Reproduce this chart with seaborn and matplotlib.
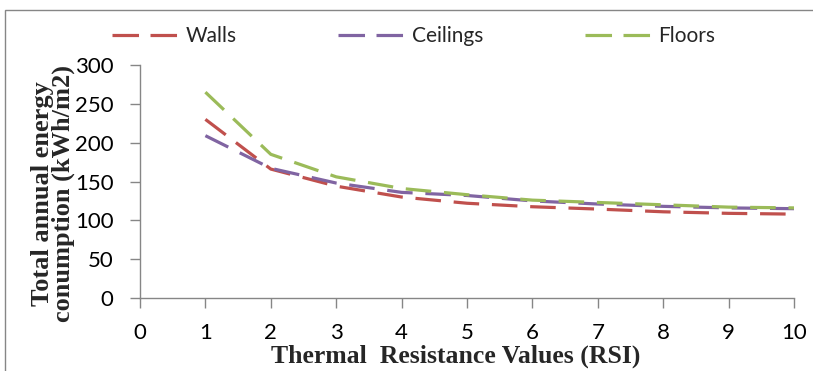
import matplotlib
matplotlib.use("Agg")
import matplotlib.pyplot as plt
import seaborn as sns
import pandas as pd
from matplotlib.patches import Rectangle
from matplotlib.lines import Line2D

rsi = [1, 2, 3, 4, 5, 6, 7, 8, 9, 10]
walls = [230, 166, 144, 130, 122, 117.5, 114.5, 111, 109, 108]
ceilings = [209, 167, 148, 136, 132, 125, 121, 118, 116, 115]
floors = [265, 185, 156, 141, 133, 126, 123, 120, 117, 116]
series_names = ["Walls", "Ceilings", "Floors"]
colors = ["#C0504D", "#8064A2", "#9BBB59"]

df = pd.DataFrame({
    "RSI": rsi * 3,
    "value": walls + ceilings + floors,
    "series": [s for s in series_names for _ in rsi],
})

sns.set_theme(style="white")
tick_font = ["Lato", "DejaVu Sans"]
serif_font = ["Liberation Serif", "DejaVu Serif"]
plt.rcParams["font.family"] = tick_font

W, H = 813, 371
fig = plt.figure(figsize=(W / 100, H / 100), dpi=100)
ax = fig.add_axes([140 / W, 1 - 298 / H, (794 - 140) / W, (298 - 65) / H])

sns.lineplot(data=df, x="RSI", y="value", hue="series", hue_order=series_names,
             palette=colors, ax=ax, linewidth=2.3, legend=False)
for line in ax.lines:
    line.set_dashes((8, 4))

ax.set_xlim(0, 10)
ax.set_ylim(0, 300)
ax.set_xticks(range(0, 11))
ax.set_yticks(range(0, 301, 50))
ax.tick_params(axis="both", which="both", direction="out", length=7, width=1,
               color="#868686", labelsize=16, labelcolor="#000000", bottom=True, left=True)
ax.tick_params(axis="x", pad=11)
ax.tick_params(axis="y", pad=12)
for side in ["top", "right"]:
    ax.spines[side].set_visible(False)
for side in ["left", "bottom"]:
    ax.spines[side].set_color("#868686")
    ax.spines[side].set_linewidth(1)

ax.set_xlabel("Thermal  Resistance Values (RSI)", family=serif_font, fontweight="bold",
              fontsize=18.5)
ax.xaxis.label.set_va("center")
ax.xaxis.set_label_coords((456 - 140) / 654, (298 - 356) / 233)

ax.set_ylabel("Total annual energy\nconumption (kWh/m2)", family=serif_font,
              fontweight="bold", fontsize=19, linespacing=0.85)
ax.yaxis.label.set_va("center")
ax.yaxis.set_label_coords((53 - 140) / 654, (298 - 194) / 233)

handles = [Line2D([0], [0], color=c, lw=2.3, dashes=(8.3, 3.6)) for c in colors]
fig.legend(handles, series_names, loc="center left", bbox_to_anchor=(112 / W, 1 - 36 / H),
           ncol=3, frameon=False, fontsize=15, handlelength=3.3, handletextpad=0.25,
           columnspacing=4.85, borderpad=0, borderaxespad=0)

fig.patches.append(Rectangle((5 / W, -0.01), 1, 1 + 0.01 - 10 / H, transform=fig.transFigure,
                             fill=False, edgecolor="#868686", linewidth=1))

fig.savefig("out.png", dpi=100)
